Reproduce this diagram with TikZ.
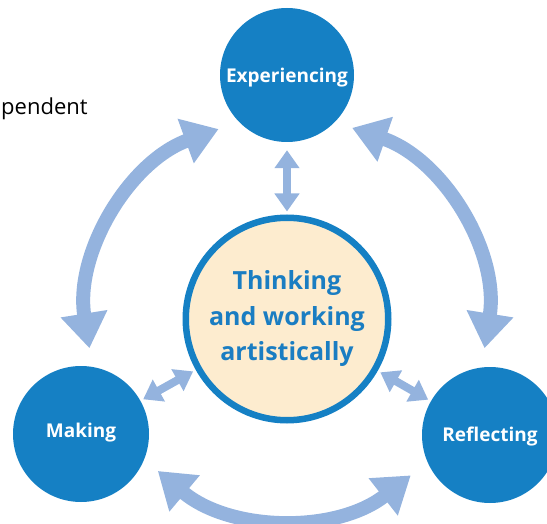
\documentclass[tikz,border=0pt]{standalone}
\usepackage{fontspec}
\setmainfont{Open Sans}
\usetikzlibrary{arrows.meta}
\definecolor{dblue}{RGB}{21,128,196}
\definecolor{tblue}{RGB}{26,125,194}
\definecolor{lblue}{RGB}{148,179,222}
\definecolor{cream}{RGB}{253,236,207}
\begin{document}
\begin{tikzpicture}[x=1pt,y=-1pt,
  outer/.style={circle, fill=dblue, minimum size=136pt, inner sep=0pt, text=white,
    text depth=0pt, font=\bfseries\fontsize{19}{22}\selectfont},
  bigarrow/.style={lblue, line width=14pt,
    {Triangle[width=45pt,length=35pt]}-{Triangle[width=45pt,length=35pt]}},
  smallarrow/.style={lblue, line width=8pt,
    {Triangle[width=24pt,length=18pt]}-{Triangle[width=24pt,length=18pt]},
    shorten <=3pt, shorten >=3pt}]
\useasboundingbox (0,0) rectangle (547,524);
\node[anchor=base west, inner sep=0pt, font=\fontsize{22}{27}\selectfont] (pend) at (1,115) {pendent};
\node[outer, minimum size=134pt, text height=16pt] (exp) at (287,75) {Experiencing};
\node[outer, text height=7pt] (mak) at (81,434) {Making};
\node[outer, text height=12pt] (ref) at (490,435) {Reflecting};
\node[circle, draw=dblue, line width=6.5pt, fill=cream, minimum size=202.5pt, inner sep=0pt,
  text=tblue, align=center, font=\bfseries\fontsize{25}{35.5}\selectfont] (ctr) at (287,319)
  {Thinking\\and working\\artistically};
\coordinate (o) at (287,317);
\draw[bigarrow] ([shift={(110:200pt)}]o) arc[start angle=110, end angle=189, radius=200pt];
\draw[bigarrow] ([shift={(-9:200pt)}]o) arc[start angle=-9, end angle=71, radius=200pt];
\draw[bigarrow] ([shift={(230:201pt)}]o) arc[start angle=230, end angle=308, radius=201pt];
\draw[smallarrow, shorten <=8pt] (exp) -- (ctr);
\draw[smallarrow] (mak) -- (ctr);
\draw[smallarrow] (ref) -- (ctr);
\end{tikzpicture}
\end{document}
